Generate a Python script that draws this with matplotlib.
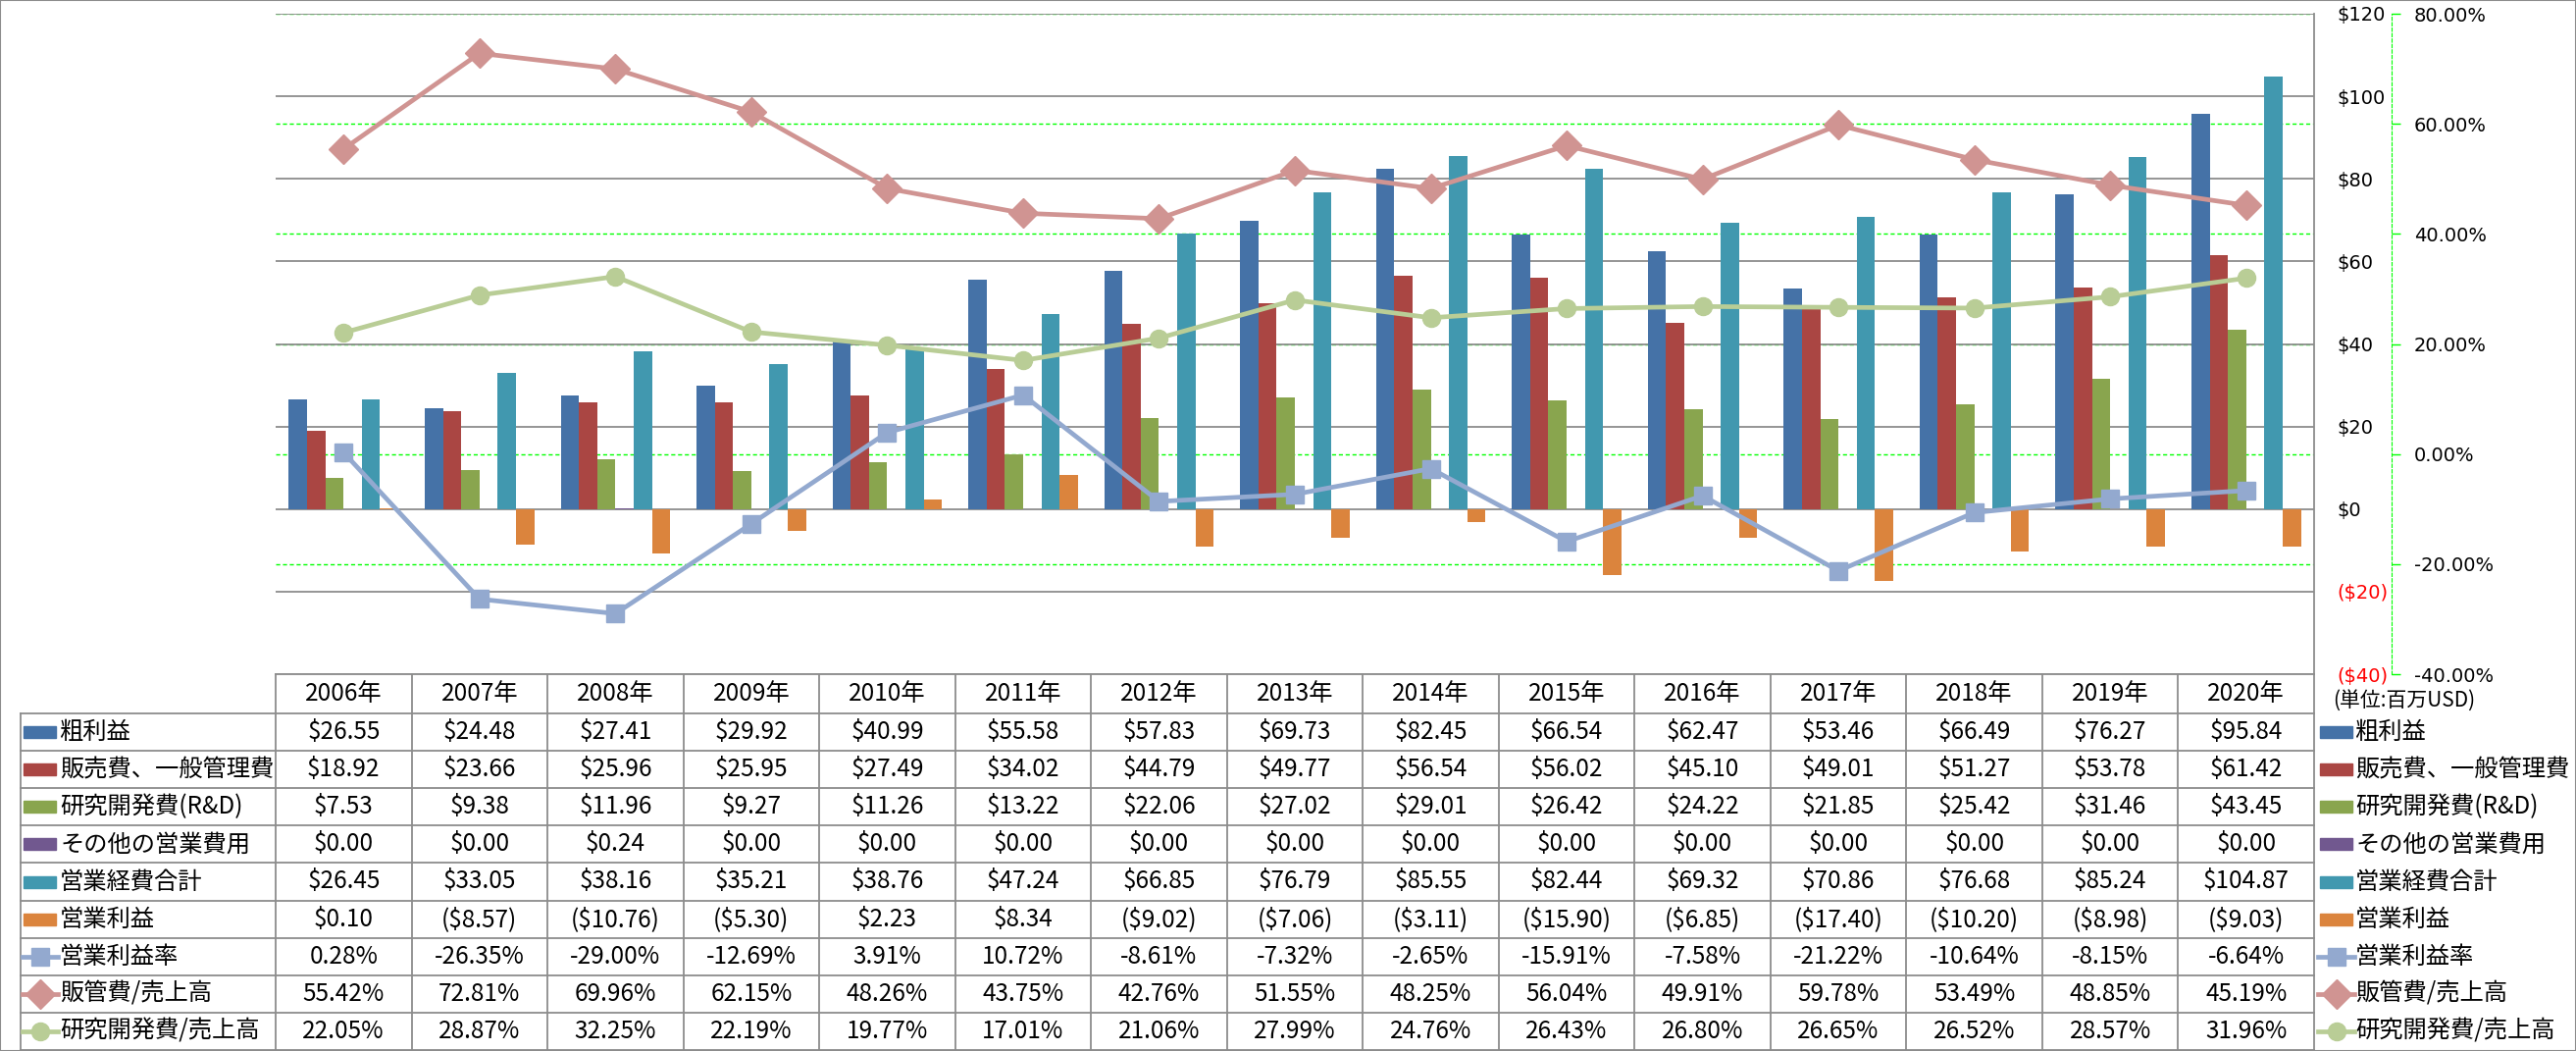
import matplotlib

matplotlib.use("Agg")

import matplotlib.pyplot as plt
import matplotlib.transforms as mtransforms
from matplotlib.lines import Line2D
from matplotlib.patches import Rectangle

plt.rcParams["font.family"] = ["Noto Sans CJK JP", "DejaVu Sans"]

years = [f"{y}年" for y in range(2006, 2021)]
gross = [26.55, 24.48, 27.41, 29.92, 40.99, 55.58, 57.83, 69.73, 82.45, 66.54, 62.47, 53.46, 66.49, 76.27, 95.84]
sga = [18.92, 23.66, 25.96, 25.95, 27.49, 34.02, 44.79, 49.77, 56.54, 56.02, 45.10, 49.01, 51.27, 53.78, 61.42]
rnd = [7.53, 9.38, 11.96, 9.27, 11.26, 13.22, 22.06, 27.02, 29.01, 26.42, 24.22, 21.85, 25.42, 31.46, 43.45]
other = [0.00, 0.00, 0.24, 0.00, 0.00, 0.00, 0.00, 0.00, 0.00, 0.00, 0.00, 0.00, 0.00, 0.00, 0.00]
opex = [26.45, 33.05, 38.16, 35.21, 38.76, 47.24, 66.85, 76.79, 85.55, 82.44, 69.32, 70.86, 76.68, 85.24, 104.87]
op_income = [0.10, -8.57, -10.76, -5.30, 2.23, 8.34, -9.02, -7.06, -3.11, -15.90, -6.85, -17.40, -10.20, -8.98, -9.03]
op_margin = [0.28, -26.35, -29.00, -12.69, 3.91, 10.72, -8.61, -7.32, -2.65, -15.91, -7.58, -21.22, -10.64, -8.15, -6.64]
sga_ratio = [55.42, 72.81, 69.96, 62.15, 48.26, 43.75, 42.76, 51.55, 48.25, 56.04, 49.91, 59.78, 53.49, 48.85, 45.19]
rnd_ratio = [22.05, 28.87, 32.25, 22.19, 19.77, 17.01, 21.06, 27.99, 24.76, 26.43, 26.80, 26.65, 26.52, 28.57, 31.96]

bar_names = ["粗利益", "販売費、一般管理費", "研究開発費(R&D)", "その他の営業費用", "営業経費合計", "営業利益"]
bar_data = [gross, sga, rnd, other, opex, op_income]
bar_colors = ["#4572A7", "#AA4643", "#89A54E", "#71588F", "#4198AF", "#DB843D"]

line_names = ["営業利益率", "販管費/売上高", "研究開発費/売上高"]
line_data = [op_margin, sga_ratio, rnd_ratio]
line_colors = ["#93A9CF", "#D09492", "#B9CD96"]
line_markers = ["s", "D", "o"]
line_msizes = [13, 15, 13]

dollar_ticks = [-40, -20, 0, 20, 40, 60, 80, 100, 120]
pct_ticks = [-40, -20, 0, 20, 40, 60, 80]

W, H = 2626, 1071
L, R, T, B = 281, 2359, 14, 687
GRAY = "#8C8C8C"


def fx(px):
    return px / W


def fy(py):
    return 1 - py / H


def money(v):
    return f"(${-v:.2f})" if v < 0 else f"${v:.2f}"


fig = plt.figure(figsize=(W / 100, H / 100), dpi=100)
fig.patches.append(Rectangle((0, 0), 1, 1, transform=fig.transFigure, fill=False,
                             edgecolor=GRAY, linewidth=1.5))

ax2 = fig.add_axes([fx(L), fy(B), fx(R) - fx(L), fy(T) - fy(B)])
ax = ax2.twinx()
ax.set_zorder(ax2.get_zorder() + 1)
ax.patch.set_visible(False)

n = len(years)
x = list(range(n))
ax.set_xlim(-0.5, n - 0.5)
ax2.set_xlim(-0.5, n - 0.5)
ax.set_ylim(-40, 120)
ax2.set_ylim(-40, 80)

# secondary (percent) axis: green dashed grid + outward spine
ax2.yaxis.tick_right()
ax2.set_yticks(pct_ticks, [f"{t:.2f}%" for t in pct_ticks])
ax2.tick_params(axis="y", length=6.5, color="#00FF00", width=1, pad=10, direction="out",
                labelsize=14, labelfontfamily="DejaVu Sans")
for tk, t in zip(ax2.yaxis.get_major_ticks(), pct_ticks):
    tk.label2.set_color("red" if t < 0 else "black")
ax2.yaxis.grid(True, color="#00FF00", linestyle=(0, (3, 2)), linewidth=1)
ax2.set_xticks([])
for side in ["left", "top", "bottom"]:
    ax2.spines[side].set_visible(False)
ax2.spines["right"].set_position(("outward", 57))
ax2.spines["right"].set_color("#00FF00")
ax2.spines["right"].set_linestyle((0, (3, 2)))

# primary (dollar) axis on the right
ax.set_yticks(dollar_ticks, [f"(${-t})" if t < 0 else f"${t}" for t in dollar_ticks])
ax.tick_params(axis="y", length=0, pad=17, labelsize=14, labelfontfamily="DejaVu Sans")
for tk, t in zip(ax.yaxis.get_major_ticks(), dollar_ticks):
    tk.label2.set_color("red" if t < 0 else "black")
ax.yaxis.grid(True, color=GRAY, linewidth=1.3)
ax.set_axisbelow(True)
ax.set_xticks([])
for side in ["left", "top", "bottom"]:
    ax.spines[side].set_visible(False)
ax.spines["right"].set_color(GRAY)
ax.spines["right"].set_linewidth(1.3)

bw = 1 / 7.45
for k, (vals, col) in enumerate(zip(bar_data, bar_colors)):
    ax.bar([i + (k - 2.5) * bw for i in x], vals, width=bw, color=col, zorder=2)

for vals, col, mk, ms in zip(line_data, line_colors, line_markers, line_msizes):
    ax.plot(x, vals, color=col, linewidth=3.4, marker=mk, markersize=ms,
            markerfacecolor=col, markeredgecolor=col, transform=ax2.transData,
            zorder=3, solid_joinstyle="round")

fig.text(fx(2378), fy(714), "(単位:百万USD)", fontsize=15, ha="left", va="center")

# data table
colx = mtransforms.blended_transform_factory(ax.transData, fig.transFigure)
head_top, head_bot, tab_bot = 687, 727, 1070
rh = (tab_bot - head_bot) / 9
TL = 20.5

fig.add_artist(Line2D([fx(L), fx(R)], [fy(head_top)] * 2, color=GRAY, lw=1.3))
for r in range(10):
    yy = head_bot + r * rh
    fig.add_artist(Line2D([fx(TL), fx(R)], [fy(yy)] * 2, color=GRAY, lw=1.3))
fig.add_artist(Line2D([fx(TL), fx(TL)], [fy(head_bot), fy(tab_bot)], color=GRAY, lw=1.3))
for i in range(n + 1):
    fig.add_artist(Line2D([i - 0.5, i - 0.5], [fy(head_top), fy(tab_bot)], color=GRAY, lw=1.3,
                          transform=colx))

tfs = 17.5
for i, yl in enumerate(years):
    fig.text(i, fy((head_top + head_bot) / 2), yl, transform=colx, ha="center", va="center", fontsize=tfs)

rows = []
for name, vals, col in zip(bar_names, bar_data, bar_colors):
    rows.append((name, [money(v) for v in vals], "bar", col, None, None))
for name, vals, col, mk, ms in zip(line_names, line_data, line_colors, line_markers, line_msizes):
    rows.append((name, [f"{v:.2f}%" for v in vals], "line", col, mk, ms))

for r, (name, texts, kind, col, mk, ms) in enumerate(rows):
    yc = head_bot + (r + 0.5) * rh
    for i, t in enumerate(texts):
        fig.text(i, fy(yc), t, transform=colx, ha="center", va="center", fontsize=tfs)
    for kx0, kx1, tx in [(24.5, 57, 61), (2365, 2398, 2401)]:
        if kind == "bar":
            fig.patches.append(Rectangle((fx(kx0), fy(yc + 6)), fx(kx1) - fx(kx0), fy(yc - 6) - fy(yc + 6),
                                         transform=fig.transFigure, color=col))
        else:
            fig.add_artist(Line2D([fx(kx0 - 2), fx(kx1 + 2)], [fy(yc)] * 2, color=col, lw=3.4))
            fig.add_artist(Line2D([fx((kx0 + kx1) / 2)], [fy(yc)], color=col, marker=mk, markersize=ms))
        fig.text(fx(tx), fy(yc), name, ha="left", va="center", fontsize=tfs)

fig.savefig("out.png", dpi=100)
